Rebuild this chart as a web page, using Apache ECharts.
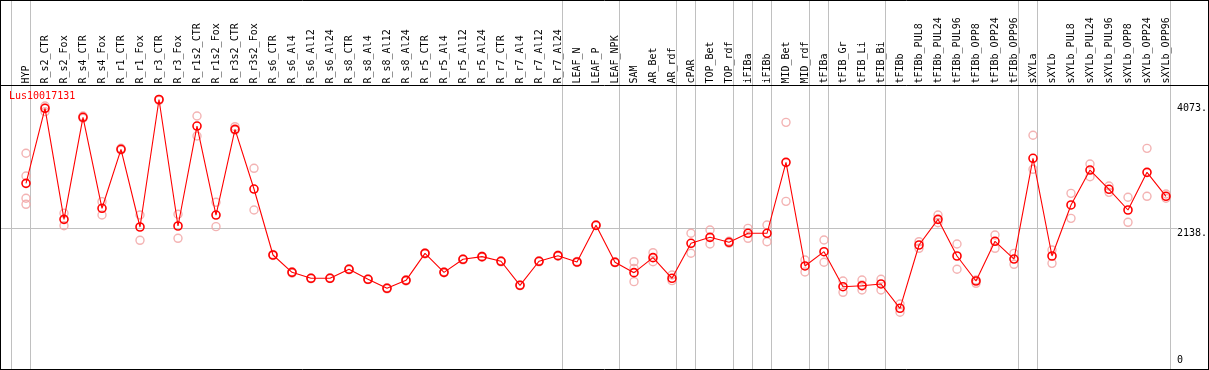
<!DOCTYPE html>
<html><head><meta charset="utf-8">
<script src="https://cdn.jsdelivr.net/npm/echarts@6/dist/echarts.min.js"></script>
<style>html,body{margin:0;padding:0;background:#fff}#c{width:1209px;height:370px}</style>
</head><body><div id="c"></div>
<script>
const geneName = 'Lus10017131';
const categories = ['HYP','R_s2_CTR','R_s2_Fox','R_s4_CTR','R_s4_Fox','R_r1_CTR','R_r1_Fox','R_r3_CTR','R_r3_Fox',
  'R_r1s2_CTR','R_r1s2_Fox','R_r3s2_CTR','R_r3s2_Fox','R_s6_CTR','R_s6_Al4','R_s6_Al12','R_s6_Al24',
  'R_s8_CTR','R_s8_Al4','R_s8_Al12','R_s8_Al24','R_r5_CTR','R_r5_Al4','R_r5_Al12','R_r5_Al24',
  'R_r7_CTR','R_r7_Al4','R_r7_Al12','R_r7_Al24','LEAF_N','LEAF_P','LEAF_NPK','SAM','AR_Bet','AR_rdf',
  'cPAR','TOP_Bet','TOP_rdf','iFIBa','iFIBb','MID_Bet','MID_rdf','tFIBa','tFIB_Gr','tFIB_Li','tFIB_Bi',
  'tFIBb','tFIBb_PUL8','tFIBb_PUL24','tFIBb_PUL96','tFIBb_OPP8','tFIBb_OPP24','tFIBb_OPP96',
  'sXYLa','sXYLb','sXYLb_PUL8','sXYLb_PUL24','sXYLb_PUL96','sXYLb_OPP8','sXYLb_OPP24','sXYLb_OPP96'];
const means = [2806,3940,2262,3804,2429,3320,2146,4073,2161,3672,2327,3622,2720,1723,
  1461,1371,1371,1507,1356,1220,1340,1748,1461,1658,1698,1628,1265,1628,1713,
  1617,2172,1613,1456,1683,1371,1900,1990,1915,2051,2051,3123,1557,1773,
  1244,1259,1285,917,1874,2262,1708,1330,1930,1662,3184,1708,2479,3007,2716,2403,2972,2610];
const replicates = [
  [3260,2917,2580,2489],[3975,3889,3940],[2353,2166],[3824,3790],[2529,2327],[3336,3310],[2327,1945],
  [4073,4060],[2338,1975],[3824,3521],[2519,2151],[3662,3610],[3033,2403],[1730,1715],
  [1470,1450],[1375,1365],[1378,1368],[1515,1500],[1362,1350],[1228,1212],[1348,1332],
  [1755,1740],[1468,1455],[1665,1650],[1705,1690],[1635,1620],[1272,1258],[1635,1620],[1720,1705],
  [1625,1610],[2180,2165],[1620,1605],[1622,1521,1320],[1758,1622],[1421,1335],[2051,1749],
  [2101,1889],[1900,1930],[2126,1975],[2176,1924],[3728,2534],[1647,1466],[1950,1613],
  [1330,1159],[1345,1194,1270],[1356,1194],[982,857],[1924,1824],[2327,2211],[1889,1507],
  [1295,1345],[2025,1824],[1748,1582],[3532,3018],[1798,1597],[2655,2277],[3098,2906],
  [2766,2670],[2595,2217],[3335,2610],[2645,2580]];
const groupStarts = [0,1,29,32,35,36,38,39,40,42,43,46,53,54,61];
const yTicks = [0,2138,4073];

const FONT = '"DejaVu Sans Mono","Liberation Mono",monospace';
const yMax = yTicks[yTicks.length - 1];
const chart = echarts.init(document.getElementById('c'), null, {renderer: 'canvas'});

const repData = [];
replicates.forEach((arr, i) => arr.forEach(v => repData.push([i, v])));

const frame = [
  [0, 0.5, 1209, 0.5], [0, 85.5, 1209, 85.5], [0, 369.5, 1209, 369.5],
  [0.5, 0, 0.5, 370], [1208.5, 0, 1208.5, 370]
].map(s => ({type: 'line', z: 100, shape: {x1: s[0], y1: s[1], x2: s[2], y2: s[3]},
  style: {stroke: '#000', lineWidth: 1}, silent: true}));

chart.setOption({
  animation: false,
  backgroundColor: '#fff',
  title: {text: geneName, left: 9, top: 91, padding: 0,
    textStyle: {color: '#ff0000', fontSize: 10, fontFamily: FONT, fontWeight: 'normal'}},
  grid: {left: 7, right: 5, top: 99.5, bottom: 1, containLabel: false, outerBoundsMode: 'none'},
  xAxis: {type: 'value', position: 'top', min: -1, max: categories.length + 1, interval: 1,
    axisLine: {show: false}, axisTick: {show: false}, splitLine: {show: false},
    axisLabel: {rotate: 90, margin: 16, fontFamily: FONT, fontSize: 10, color: '#000',
      formatter: v => categories[v] || ''}},
  yAxis: {type: 'value', min: 0, max: yMax, position: 'right',
    axisLine: {show: false}, axisTick: {show: false}, splitLine: {show: false}, axisLabel: {show: false}},
  graphic: frame,
  series: [
    {type: 'custom', coordinateSystem: 'cartesian2d', clip: false, silent: true, z: 1,
      data: groupStarts.map(s => [s - 0.76, 0]),
      renderItem: (p, api) => {
        const x = Math.floor(api.coord([api.value(0), 0])[0]) + 0.5;
        return {type: 'line', shape: {x1: x, y1: 0, x2: x, y2: 370}, style: {stroke: '#c0c0c0', lineWidth: 1}};
      }},
    {type: 'custom', coordinateSystem: 'cartesian2d', clip: false, silent: true, z: 1,
      data: yTicks.filter(v => v > 0 && v < yMax).map(v => [0, v]),
      renderItem: (p, api) => {
        const y = Math.round(api.coord([0, api.value(1)])[1]) + 0.5;
        return {type: 'line', shape: {x1: 1, y1: y, x2: 1177, y2: y}, style: {stroke: '#c0c0c0', lineWidth: 1}};
      }},
    {type: 'custom', coordinateSystem: 'cartesian2d', clip: false, silent: true, z: 5,
      data: yTicks.map(v => [0, v]),
      renderItem: (p, api) => {
        const v = api.value(1);
        const y = api.coord([0, v])[1];
        let ty, va;
        if (v === yMax) { ty = y + 3.5; va = 'top'; }
        else if (v === 0) { ty = y - 3.5; va = 'bottom'; }
        else { ty = y + 0.5; va = 'top'; }
        return {type: 'text', style: {text: v === 0 ? '0' : v + '.', x: 1177, y: ty,
          textAlign: 'left', textVerticalAlign: va, fill: '#000', font: '10px ' + FONT}};
      }},
    {type: 'scatter', z: 2, data: repData, symbol: 'circle', symbolSize: 8, silent: true,
      itemStyle: {color: 'rgba(0,0,0,0)', borderColor: '#f0a0a0', borderWidth: 1.4}},
    {type: 'line', z: 3, data: means.map((v, i) => [i, v]), symbol: 'circle', symbolSize: 8,
      showAllSymbol: true, silent: true,
      lineStyle: {color: '#ff0000', width: 1.1},
      itemStyle: {color: 'rgba(0,0,0,0)', borderColor: '#ff0000', borderWidth: 1.6}}
  ]
});
</script></body></html>
